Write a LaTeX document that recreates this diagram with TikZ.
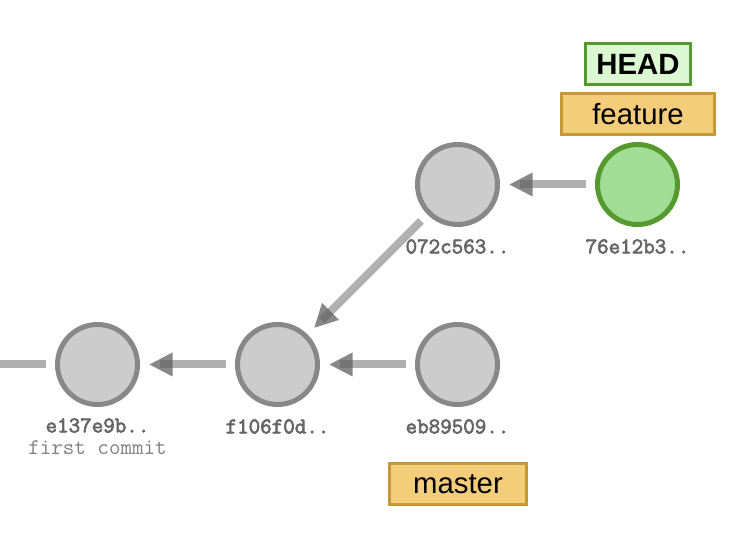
\documentclass[tikz,border=0pt]{standalone}
\usepackage{fontspec}
\setmainfont{Liberation Sans}
\newfontfamily\idfont{Latin Modern Mono}[FakeBold=3]
\usetikzlibrary{calc}
\definecolor{cfill}{HTML}{CCCCCC}
\definecolor{cedge}{HTML}{888888}
\definecolor{hfill}{HTML}{A0DD95}
\definecolor{hedge}{HTML}{55992F}
\definecolor{bfill}{HTML}{F4CD7A}
\definecolor{bedge}{HTML}{C59A36}
\definecolor{headfill}{HTML}{DBF8D3}
\definecolor{idtext}{HTML}{666666}
\definecolor{msgtext}{HTML}{808080}
\definecolor{linecol}{HTML}{616161}
\definecolor{tipcol}{HTML}{111111}
\newcommand\gitarrow[2]{%
  \coordinate (tp-#1) at ($(#2.center)!39pt!(#1.center)$);
  \coordinate (tb-#1) at ($(#2.center)!56.25pt!(#1.center)$);
  \fill[arrowtip] (tp-#1) -- ($(tb-#1)!9pt!90:(tp-#1)$) -- ($(tb-#1)!9pt!-90:(tp-#1)$) -- cycle;
  \draw[edgeline] (#1) -- (#2);
}
\begin{document}
\begin{tikzpicture}[x=0.75pt,y=-0.75pt,
  commit/.style={circle, minimum size=60pt, inner sep=0pt, line width=3.75pt, draw=cedge, fill=cfill},
  headcommit/.style={commit, draw=hedge, fill=hfill},
  idlabel/.style={font=\idfont\bfseries\fontsize{16.8pt}{19pt}\selectfont, text=idtext, inner sep=0pt},
  msglabel/.style={font=\ttfamily\fontsize{16.8pt}{19pt}\selectfont, text=msgtext, inner sep=0pt},
  branchbox/.style={draw=bedge, fill=bfill, line width=2.25pt, minimum height=30.75pt, inner sep=0pt, font=\fontsize{22pt}{26pt}\selectfont},
  headbox/.style={draw=hedge, fill=headfill, line width=2.25pt, minimum height=30.75pt, minimum width=78.75pt, inner sep=0pt, font=\bfseries\fontsize{22pt}{26pt}\selectfont},
  edgeline/.style={draw=linecol, draw opacity=0.5, line width=6pt, shorten <=6.75pt, shorten >=15pt},
  arrowtip/.style={fill=tipcol, fill opacity=0.5}
]
\useasboundingbox (0,0) rectangle (740,552);

% commits
\node[commit] (c1) at (97.5,364.5) {};
\node[commit] (c2) at (277.5,364.5) {};
\node[commit] (c3) at (457.5,364.5) {};
\node[commit] (c4) at (457.5,184.5) {};
\node[headcommit] (c5) at (637.5,184.5) {};

% ids
\node[idlabel] (l1) at (97.5,425.5) {e137e9b..};
\node[msglabel] (m1) at (97.5,448) {first commit};
\node[idlabel] (l2) at (277.5,426.5) {f106f0d..};
\node[idlabel] (l3) at (457.5,426.5) {eb89509..};
\node[idlabel] (l4) at (457.5,246.5) {072c563..};
\node[idlabel] (l5) at (637.5,246.5) {76e12b3..};

% branches
\node[headbox] (head) at (638,64) {HEAD};
\node[branchbox, minimum width=114.75pt] (feature) at (638,114) {feature};
\node[branchbox, minimum width=102.75pt] (master) at (458,484) {master};

% connectors
\coordinate (offleft) at (0,364.5);
\draw[edgeline, shorten >=0pt] (c1) -- (offleft);
\gitarrow{c2}{c1}
\gitarrow{c3}{c2}
\gitarrow{c4}{c2}
\gitarrow{c5}{c4}
\end{tikzpicture}
\end{document}
